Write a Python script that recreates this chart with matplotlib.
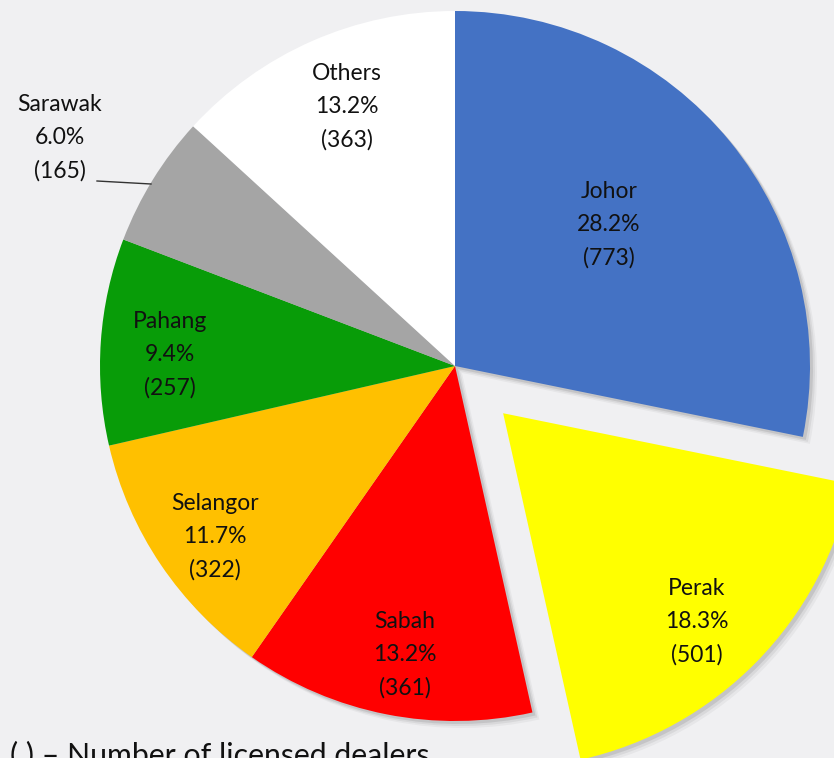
import matplotlib.pyplot as plt
import numpy as np

states = ["Johor", "Perak", "Sabah", "Selangor", "Pahang", "Sarawak", "Others"]
shares = [28.2, 18.3, 13.2, 11.7, 9.4, 6.0, 13.2]
dealers = [773, 501, 361, 322, 257, 165, 363]
colors = ["#4472C4", "#FFFF00", "#FF0000", "#FFC000", "#089C08", "#A5A5A5", "#FFFFFF"]
explode_frac = [0, 0.19, 0, 0, 0, 0, 0]

# label centres in pixel coords (from top-left)
label_pos = [(609, 225), (697, 622), (405, 655), (215, 537), (170, 355), (60, 138), (347, 107)]

W, H = 834, 758
bg = "#F0F0F2"
fig = plt.figure(figsize=(W / 100, H / 100), dpi=100, facecolor=bg)
ax = fig.add_axes([0, 0, 1, 1])

cx, cy, R = 455, H - 366, 355
explode = [e * R for e in explode_frac]

# soft drop shadow
for k, a in [(7, 0.04), (5, 0.06), (3, 0.09)]:
    ax.pie(shares, explode=explode, startangle=90, counterclock=False,
           radius=R, center=(cx + k, cy - k), colors=["#000000"] * len(shares),
           wedgeprops=dict(alpha=a, linewidth=0), frame=True)

wedges, _ = ax.pie(shares, explode=explode, startangle=90, counterclock=False,
                   radius=R, center=(cx, cy), colors=colors,
                   wedgeprops=dict(linewidth=0), frame=True)
ax.set_xlim(0, W)
ax.set_ylim(0, H)
ax.set_aspect("equal")
ax.axis("off")

for name, s, n, (px, py) in zip(states, shares, dealers, label_pos):
    ax.text(px, H - py, f"{name}\n{s:.1f}%\n({n})", ha="center", va="center",
            fontsize=16.5, family="Lato", color="#111111", linespacing=1.7)

# leader line for Sarawak
ax.plot([97, 151], [H - 181, H - 184], color="#333333", lw=1)

fig.text(10 / W, -6 / H, "( ) \u2013 Number of licensed dealers", ha="left", va="baseline",
         fontsize=21.8, family="Lato", color="#111111")

fig.savefig("out.png", dpi=100, facecolor=bg)
